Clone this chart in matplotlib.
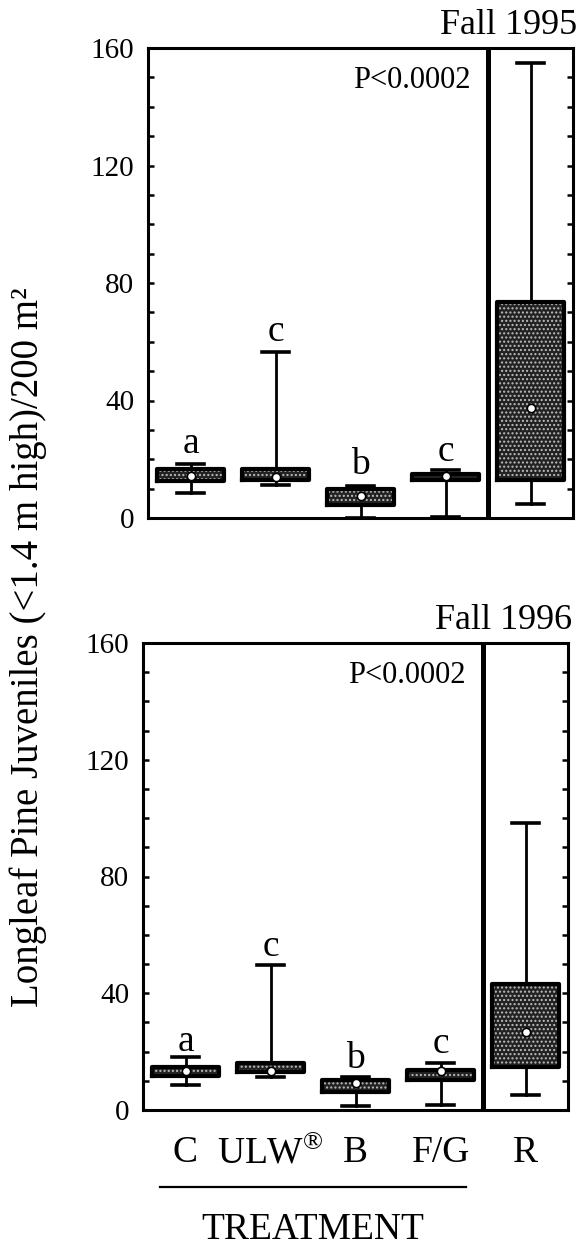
import matplotlib
matplotlib.use("Agg")
import matplotlib.pyplot as plt
from matplotlib.ticker import MultipleLocator

plt.rcParams.update({
    "font.family": ["Liberation Serif", "DejaVu Serif"],
    "mathtext.fontset": "custom",
    "mathtext.rm": "Liberation Serif",
    "font.size": 21,
    "hatch.linewidth": 1.0,
})

treatments = ["C", "ULW$^{\\circledR}$", "B", "F/G", "R"]
letters = ["a", "c", "b", "c"]

# Fall 1995
q1_1995 = [12.7, 12.9, 4.5, 12.9, 12.9]
q3_1995 = [16.7, 16.7, 10.0, 15.1, 73.4]
lo_1995 = [8.5, 11.4, 0.0, 0.4, 4.7]
hi_1995 = [18.5, 56.5, 10.8, 16.5, 155.0]
mean_1995 = [14.4, 14.1, 7.4, 14.4, 37.6]
letter_y_1995 = [25.3, 63.5, 18.2, 22.4]

# Fall 1996
q1_1996 = [11.5, 12.9, 6.3, 10.3, 14.9]
q3_1996 = [14.9, 16.1, 10.3, 13.8, 43.0]
lo_1996 = [8.6, 11.3, 1.4, 1.7, 5.2]
hi_1996 = [18.1, 49.7, 11.2, 16.1, 98.5]
mean_1996 = [13.2, 13.2, 9.4, 13.2, 26.8]
letter_y_1996 = [23.3, 56.0, 17.6, 22.7]

positions = [1, 2, 3, 4, 5]


def make_stats(q1, q3, lo, hi, mean):
    return [dict(q1=a, q3=b, whislo=c, whishi=d, med=m, mean=m, fliers=[])
            for a, b, c, d, m in zip(q1, q3, lo, hi, mean)]


def panel(ax, stats, letter_y, title, show_x):
    # stippled fill, then black outline + whiskers on top
    ax.bxp(stats, positions=positions, widths=0.79, patch_artist=True,
           showcaps=False, showmeans=False,
           boxprops=dict(facecolor="#222222", edgecolor="#bdbdbd", linewidth=0, hatch="...."),
           whiskerprops=dict(linewidth=0), medianprops=dict(linewidth=0))
    ax.bxp(stats, positions=positions, widths=0.79, showmeans=True, capwidths=0.32,
           boxprops=dict(color="black", linewidth=3.0),
           whiskerprops=dict(color="black", linewidth=2.0),
           capprops=dict(color="black", linewidth=2.6),
           medianprops=dict(linewidth=0),
           meanprops=dict(marker="o", markerfacecolor="white", markeredgecolor="black",
                          markersize=6, markeredgewidth=1.2))

    ax.axvline(4.5, color="black", lw=3.6)
    ax.set_xlim(0.5, 5.5)
    ax.set_ylim(0, 160)
    ax.yaxis.set_major_locator(MultipleLocator(40))
    ax.yaxis.set_minor_locator(MultipleLocator(10))
    ax.tick_params(axis="y", which="both", direction="in", left=True, right=True,
                   length=4, width=1.8, pad=10)
    for s in ax.spines.values():
        s.set_linewidth(2.2)

    for x, lab, y in zip(positions, letters, letter_y):
        ax.text(x, y, lab, ha="center", va="center", fontsize=27)
    ax.text(4.29, 149, "P<0.0002", ha="right", va="center", fontsize=22)
    ax.annotate(title, xy=(1.0, 1.0), xycoords="axes fraction", xytext=(3, 4),
                textcoords="offset points", ha="right", va="bottom", fontsize=26)

    if show_x:
        ax.set_xticks(positions)
        ax.set_xticklabels(treatments, fontsize=27)
        ax.tick_params(axis="x", length=0, pad=18)
    else:
        ax.set_xticks([])


fig = plt.figure(figsize=(5.77, 12.49), dpi=100)
ax1 = fig.add_axes([148 / 577, 1 - 518 / 1249, 425 / 577, 470 / 1249])
ax2 = fig.add_axes([143 / 577, 1 - 1110 / 1249, 425 / 577, 467 / 1249])

panel(ax1, make_stats(q1_1995, q3_1995, lo_1995, hi_1995, mean_1995), letter_y_1995, "Fall 1995", False)
panel(ax2, make_stats(q1_1996, q3_1996, lo_1996, hi_1996, mean_1996), letter_y_1996, "Fall 1996", True)

# underline beneath the four treatments and the axis title
ax2.plot([0.7, 4.3], [-0.165, -0.165], color="black", lw=1.6, clip_on=False,
         transform=ax2.get_xaxis_transform())
ax2.text(2.5, -0.257, "TREATMENT", ha="center", va="center", fontsize=27,
         transform=ax2.get_xaxis_transform())

fig.text(28 / 577, 1 - 647 / 1249, "Longleaf Pine Juveniles (<1.4 m high)/200 m\u00b2",
         rotation=90, ha="center", va="center", fontsize=28)

fig.savefig("out.png", dpi=100)
